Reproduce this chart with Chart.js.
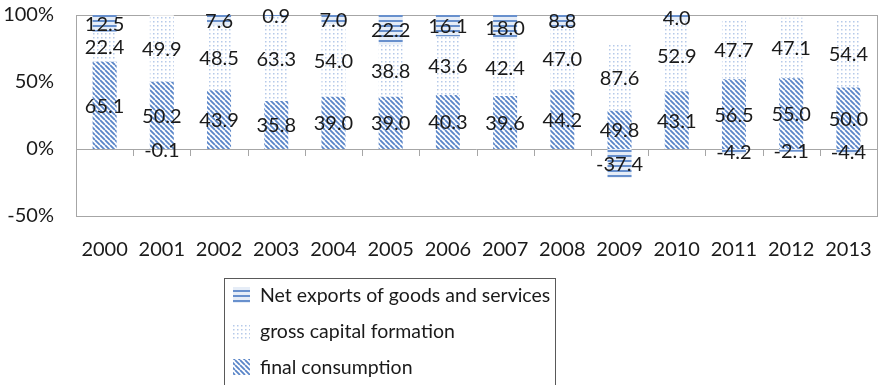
<!DOCTYPE html>
<html>
<head>
<meta charset="utf-8">
<title>Expenditure shares of GDP growth</title>
<script src="https://cdn.jsdelivr.net/npm/chart.js@4"></script>
<style>
  html, body { margin: 0; padding: 0; background: #fff; }
  #wrap { width: 882px; height: 385px; }
</style>
</head>
<body>
<div id="wrap"><canvas id="chart" width="882" height="385"></canvas></div>
<script>
// contributions in percent, per year
var years = ['2000', '2001', '2002', '2003', '2004', '2005', '2006', '2007', '2008', '2009', '2010', '2011', '2012', '2013'];
var finalConsumption = [65.1, 50.2, 43.9, 35.8, 39.0, 39.0, 40.3, 39.6, 44.2, 49.8, 43.1, 56.5, 55.0, 50.0];
var grossCapital = [22.4, 49.9, 48.5, 63.3, 54.0, 38.8, 43.6, 42.4, 47.0, 87.6, 52.9, 47.7, 47.1, 54.4];
var netExports = [12.5, -0.1, 7.6, 0.9, 7.0, 22.2, 16.1, 18.0, 8.8, -37.4, 4.0, -4.2, -2.1, -4.4];
var yTicks = [-50, 0, 50, 100];

var FONT = 'Lato, "Open Sans", "DejaVu Sans", sans-serif';
var GRID = '#a6a6a6';

// 100% stacked: each part is scaled by the sum of absolute parts of its year
function share(series, i) {
    var total = Math.abs(finalConsumption[i]) + Math.abs(grossCapital[i]) + Math.abs(netExports[i]);
    return series[i] / total * 100;
}
function shares(series) {
    return series.map(function (v, i) { return share(series, i); });
}

function makePattern(w, h, draw) {
    var c = document.createElement('canvas');
    c.width = w; c.height = h;
    var g = c.getContext('2d');
    g.fillStyle = '#fff';
    g.fillRect(0, 0, w, h);
    draw(g);
    return g.createPattern(c, 'repeat');
}

var diagPattern = makePattern(5, 5, function (g) {
    g.strokeStyle = '#5985c8';
    g.lineWidth = 1.8;
    g.beginPath();
    [-5, 0, 5].forEach(function (k) { g.moveTo(k, 0); g.lineTo(k + 5, 5); });
    g.stroke();
});
var dotPattern = makePattern(4, 4, function (g) {
    g.fillStyle = '#b6cae9';
    g.fillRect(1, 1, 1.5, 1.5);
});
var stripePattern = makePattern(5, 5, function (g) {
    g.fillStyle = '#e6edf7';
    g.fillRect(0, 2, 5, 3);
    g.fillStyle = '#6890cd';
    g.fillRect(0, 0, 5, 2);
});

var rawByDataset = [finalConsumption, grossCapital, netExports];

// plot frame, zero line and category ticks
var framePlugin = {
    id: 'frame',
    beforeDatasetsDraw: function (chart) {
        var a = chart.chartArea, ctx = chart.ctx;
        var y0 = chart.scales.y.getPixelForValue(0);
        var n = years.length, step = (a.right - a.left) / n;
        ctx.save();
        ctx.strokeStyle = GRID;
        ctx.lineWidth = 1;
        ctx.strokeRect(Math.round(a.left) + 0.5, Math.round(a.top) + 0.5,
            Math.round(a.right - a.left), Math.round(a.bottom - a.top));
        ctx.beginPath();
        ctx.moveTo(a.left, Math.round(y0) + 0.5);
        ctx.lineTo(a.right, Math.round(y0) + 0.5);
        for (var i = 1; i < n; i++) {
            var x = Math.round(a.left + i * step) + 0.5;
            ctx.moveTo(x, y0);
            ctx.lineTo(x, y0 + 7);
        }
        ctx.stroke();
        ctx.restore();
    }
};

// value labels in the middle of every segment
var labelPlugin = {
    id: 'segLabels',
    afterDatasetsDraw: function (chart) {
        var ctx = chart.ctx;
        ctx.save();
        ctx.font = '20px ' + FONT;
        ctx.fillStyle = '#1a1a1a';
        ctx.textAlign = 'center';
        ctx.textBaseline = 'middle';
        chart.data.datasets.forEach(function (ds, d) {
            chart.getDatasetMeta(d).data.forEach(function (bar, i) {
                var y = (bar.y + bar.base) / 2;
                ctx.fillText(rawByDataset[d][i].toFixed(1), bar.x, y + 1);
            });
        });
        ctx.restore();
    }
};

// boxed legend below the plot, top entry first
var legendPlugin = {
    id: 'boxLegend',
    afterDraw: function (chart) {
        var ctx = chart.ctx;
        var items = [
            { text: 'Net exports of goods and services', fill: stripePattern },
            { text: 'gross capital formation', fill: dotPattern },
            { text: 'final consumption', fill: diagPattern }
        ];
        ctx.save();
        ctx.strokeStyle = '#595959';
        ctx.lineWidth = 1;
        ctx.strokeRect(224.5, 278.5, 331, 120);
        ctx.font = '19.5px ' + FONT;
        ctx.textBaseline = 'middle';
        items.forEach(function (it, k) {
            var cy = 295 + k * 36;
            ctx.fillStyle = it.fill;
            ctx.fillRect(233, cy - 8, 17, 16);
            ctx.fillStyle = '#1a1a1a';
            ctx.fillText(it.text, 260, cy + 1);
        });
        ctx.restore();
    }
};

Chart.defaults.font.family = FONT;
Chart.defaults.color = '#1a1a1a';

var ctx = document.getElementById('chart').getContext('2d');
var chart = new Chart(ctx, {
    type: 'bar',
    data: {
        labels: years,
        datasets: [
            { label: 'final consumption', data: shares(finalConsumption), backgroundColor: diagPattern },
            { label: 'gross capital formation', data: shares(grossCapital), backgroundColor: dotPattern },
            { label: 'Net exports of goods and services', data: shares(netExports), backgroundColor: stripePattern }
        ]
    },
    options: {
        responsive: false,
        animation: false,
        layout: { padding: { top: 15, right: 5, left: 0, bottom: 0 } },
        datasets: {
            bar: { categoryPercentage: 1, barPercentage: 0.42, borderWidth: 0 }
        },
        plugins: {
            legend: { display: false },
            tooltip: { enabled: false }
        },
        scales: {
            x: {
                stacked: true,
                grid: { display: false, drawTicks: false },
                border: { display: false },
                ticks: { font: { size: 20 }, padding: 22, maxRotation: 0 },
                afterFit: function (s) { s.height = 169; s.paddingLeft = 0; s.paddingRight = 0; }
            },
            y: {
                stacked: true,
                min: -50,
                max: 100,
                afterBuildTicks: function (s) { s.ticks = yTicks.map(function (v) { return { value: v }; }); },
                grid: { display: false, drawTicks: false },
                border: { display: false },
                ticks: {
                    font: { size: 20 },
                    padding: 22,
                    callback: function (v) { return v + '%'; }
                },
                afterFit: function (s) { s.width = 76; s.paddingTop = 0; s.paddingBottom = 0; }
            }
        }
    },
    plugins: [framePlugin, labelPlugin, legendPlugin]
});
</script>
</body>
</html>
